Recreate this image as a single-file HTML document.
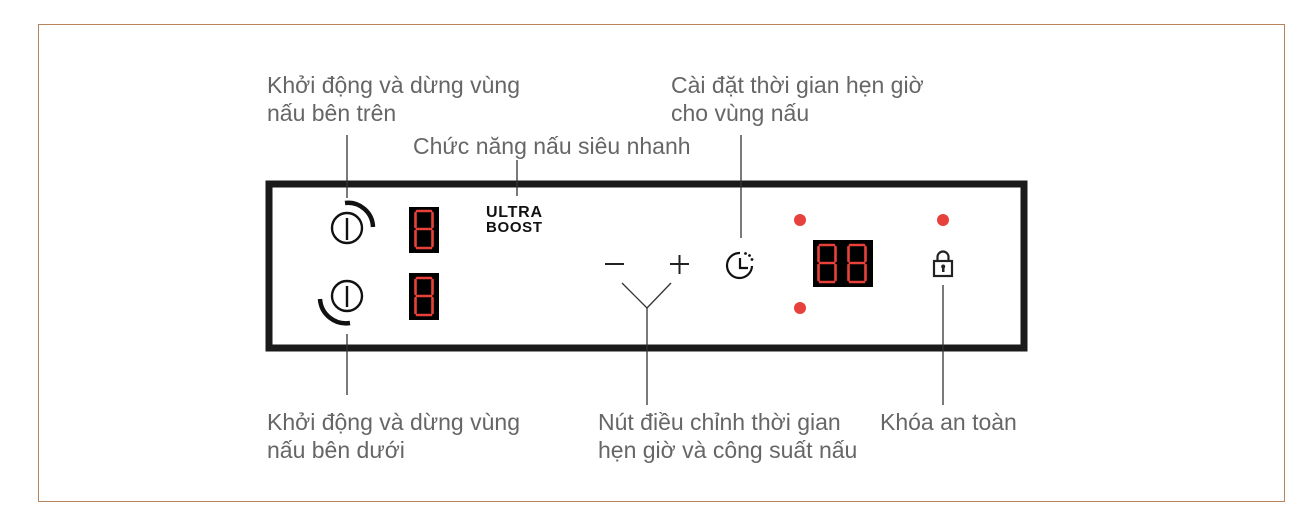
<!DOCTYPE html>
<html><head><meta charset="utf-8"><style>
html,body{margin:0;padding:0;background:#fff;}
svg{display:block}
text{font-family:"Liberation Sans",sans-serif;font-size:23px;fill:#666;}
</style></head><body>
<svg width="1313" height="531" viewBox="0 0 1313 531" xmlns="http://www.w3.org/2000/svg">
<defs>
<g id="d8" fill="none" stroke="#e8413c" stroke-width="2.6" stroke-linecap="round">
  <path d="M5 4 H19 M3.5 6 V20 M20.5 6 V20 M5 22 H19 M3.5 24 V39 M20.5 24 V39 M5 41 H19"/>
</g>
</defs>
<rect x="38.5" y="24.5" width="1246" height="477" fill="none" stroke="#b5835e" stroke-width="1"/>
<rect x="269" y="184" width="755" height="164" fill="none" stroke="#1a1a1a" stroke-width="7"/>
<g stroke="#333" stroke-width="1.3">
<line x1="347" y1="135" x2="347" y2="198"/>
<line x1="347" y1="334" x2="347" y2="395"/>
<line x1="517" y1="160" x2="517" y2="196"/>
<line x1="741" y1="135" x2="741" y2="238"/>
<line x1="647" y1="308" x2="647" y2="405"/>
<line x1="943" y1="285" x2="943" y2="405"/>
<line x1="622" y1="283" x2="647" y2="308"/>
<line x1="671" y1="283" x2="647" y2="308"/>
</g>
<g fill="none" stroke="#111" stroke-width="2.4">
<circle cx="347" cy="228" r="15"/><line x1="347" y1="218" x2="347" y2="240"/>
<path d="M345 203 A25 25 0 0 1 373 227" stroke-width="4.5"/>
<circle cx="347" cy="296" r="15"/><line x1="347" y1="286" x2="347" y2="307"/>
<path d="M320 299 A26 26 0 0 0 350 323" stroke-width="4.5"/>
</g>
<rect x="409" y="207" width="30" height="46" fill="#000"/>
<use href="#d8" x="412" y="207"/>
<rect x="409" y="273" width="30" height="47" fill="#000"/>
<use href="#d8" x="412" y="274"/>
<rect x="813" y="240" width="60" height="47" fill="#000"/>
<use href="#d8" x="815" y="241"/>
<use href="#d8" x="845" y="241"/>
<text x="486" y="217" textLength="56" style="font-size:16px;font-weight:bold;fill:#111">ULTRA</text>
<text x="486" y="232" textLength="56" style="font-size:15px;fill:#111;font-weight:bold">BOOST</text>
<g stroke="#222" stroke-width="2">
<line x1="605" y1="264" x2="624" y2="264"/>
<line x1="670" y1="264" x2="689" y2="264"/><line x1="679.5" y1="255" x2="679.5" y2="274"/>
</g>
<g fill="none" stroke="#111" stroke-width="2.2">
<path d="M752 266 A12.5 12.5 0 1 1 740 253"/>
<path d="M740 258 V268 H748"/>
</g>
<g fill="#111"><circle cx="745.5" cy="253.5" r="1.4"/><circle cx="749.5" cy="255.5" r="1.4"/><circle cx="752" cy="259.5" r="1.4"/></g>
<g fill="#e8413c"><circle cx="800" cy="220" r="6"/><circle cx="800" cy="308" r="6"/><circle cx="943" cy="220" r="6"/></g>
<g fill="none" stroke="#222" stroke-width="2.2">
<rect x="934" y="261" width="18" height="15"/>
<path d="M937.5 261 V257 A5.5 5.5 0 0 1 948.5 257 V261"/>
</g>
<rect x="942" y="266" width="2.5" height="6" fill="#222"/><circle cx="943.2" cy="266.5" r="2" fill="#222"/>
<text x="267" y="93">Khởi động và dừng vùng</text>
<text x="267" y="121">nấu bên trên</text>
<text x="413" y="154">Chức năng nấu siêu nhanh</text>
<text x="671" y="93">Cài đặt thời gian hẹn giờ</text>
<text x="671" y="121">cho vùng nấu</text>
<text x="267" y="430">Khởi động và dừng vùng</text>
<text x="267" y="458">nấu bên dưới</text>
<text x="598" y="430">Nút điều chỉnh thời gian</text>
<text x="598" y="458">hẹn giờ và công suất nấu</text>
<text x="880" y="430">Khóa an toàn</text>
</svg>
</body></html>
